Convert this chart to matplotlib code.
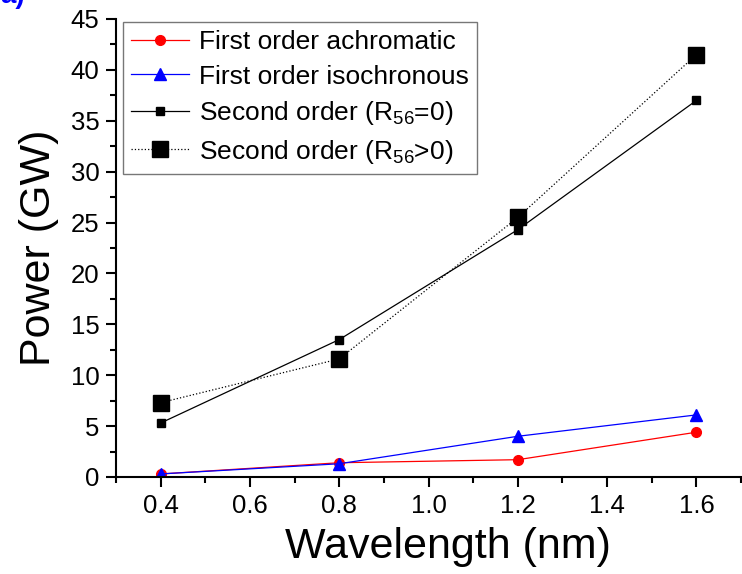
import matplotlib
matplotlib.use("Agg")
import matplotlib.pyplot as plt
from matplotlib.ticker import MultipleLocator

plt.rcParams['font.family'] = ['Liberation Sans', 'DejaVu Sans']
plt.rcParams['mathtext.fontset'] = 'custom'
plt.rcParams['mathtext.rm'] = 'Liberation Sans'
plt.rcParams['mathtext.it'] = 'Liberation Sans:italic'

wavelength = [0.4, 0.8, 1.2, 1.6]
achromatic = [0.3, 1.4, 1.7, 4.4]
isochronous = [0.3, 1.3, 4.0, 6.1]
second_r0 = [5.3, 13.5, 24.3, 37.0]
second_rpos = [7.3, 11.6, 25.5, 41.5]

fig = plt.figure(figsize=(7.42, 5.74), dpi=100)
ax = fig.add_axes([0.1563, 0.169, 0.8425, 0.798])

ax.plot(wavelength, achromatic, color='red', lw=0.9, marker='o', ms=7,
        label='First order achromatic')
ax.plot(wavelength, isochronous, color='blue', lw=0.9, marker='^', ms=8,
        label='First order isochronous')
ax.plot(wavelength, second_r0, color='black', lw=0.9, marker='s', ms=5.5,
        label='Second order (R$_{56}$=0)')
ax.plot(wavelength, second_rpos, color='black', lw=0.9, ls=':', marker='s', ms=11,
        label='Second order (R$_{56}$>0)')

ax.set_xlim(0.3, 1.7)
ax.set_ylim(0, 45)
ax.xaxis.set_minor_locator(MultipleLocator(0.1))
ax.yaxis.set_major_locator(MultipleLocator(5))
ax.yaxis.set_minor_locator(MultipleLocator(2.5))
ax.set_xticks([0.4, 0.6, 0.8, 1.0, 1.2, 1.4, 1.6])
ax.set_xticklabels(['0.4', '0.6', '0.8', '1.0', '1.2', '1.4', '1.6'])

ax.spines['top'].set_visible(False)
ax.spines['right'].set_visible(False)
for s in ['left', 'bottom']:
    ax.spines[s].set_linewidth(1.5)
ax.tick_params(which='major', direction='out', length=7, width=1.5, labelsize=18.5, pad=5)
ax.tick_params(which='minor', direction='out', length=4, width=1.5)

ax.set_xlabel('Wavelength (nm)', fontsize=31)
ax.xaxis.set_label_coords(0.531, -0.11, transform=ax.transAxes)
ax.xaxis.label.set_va('top')
ax.set_ylabel('Power (GW)', fontsize=31, labelpad=8)

leg = ax.legend(loc='upper left', bbox_to_anchor=(0.011, 0.993), fontsize=19,
                frameon=True, fancybox=False, edgecolor='#555555',
                handlelength=2.2, handletextpad=0.4, borderpad=0.3,
                labelspacing=0.4, borderaxespad=0.0)
leg.get_frame().set_linewidth(1.0)

fig.text(0.0, 1.0 - 3 / 574, 'a)', color='blue', fontsize=20, fontweight='bold',
         va='baseline', ha='left')

fig.savefig('out.png', dpi=100)
